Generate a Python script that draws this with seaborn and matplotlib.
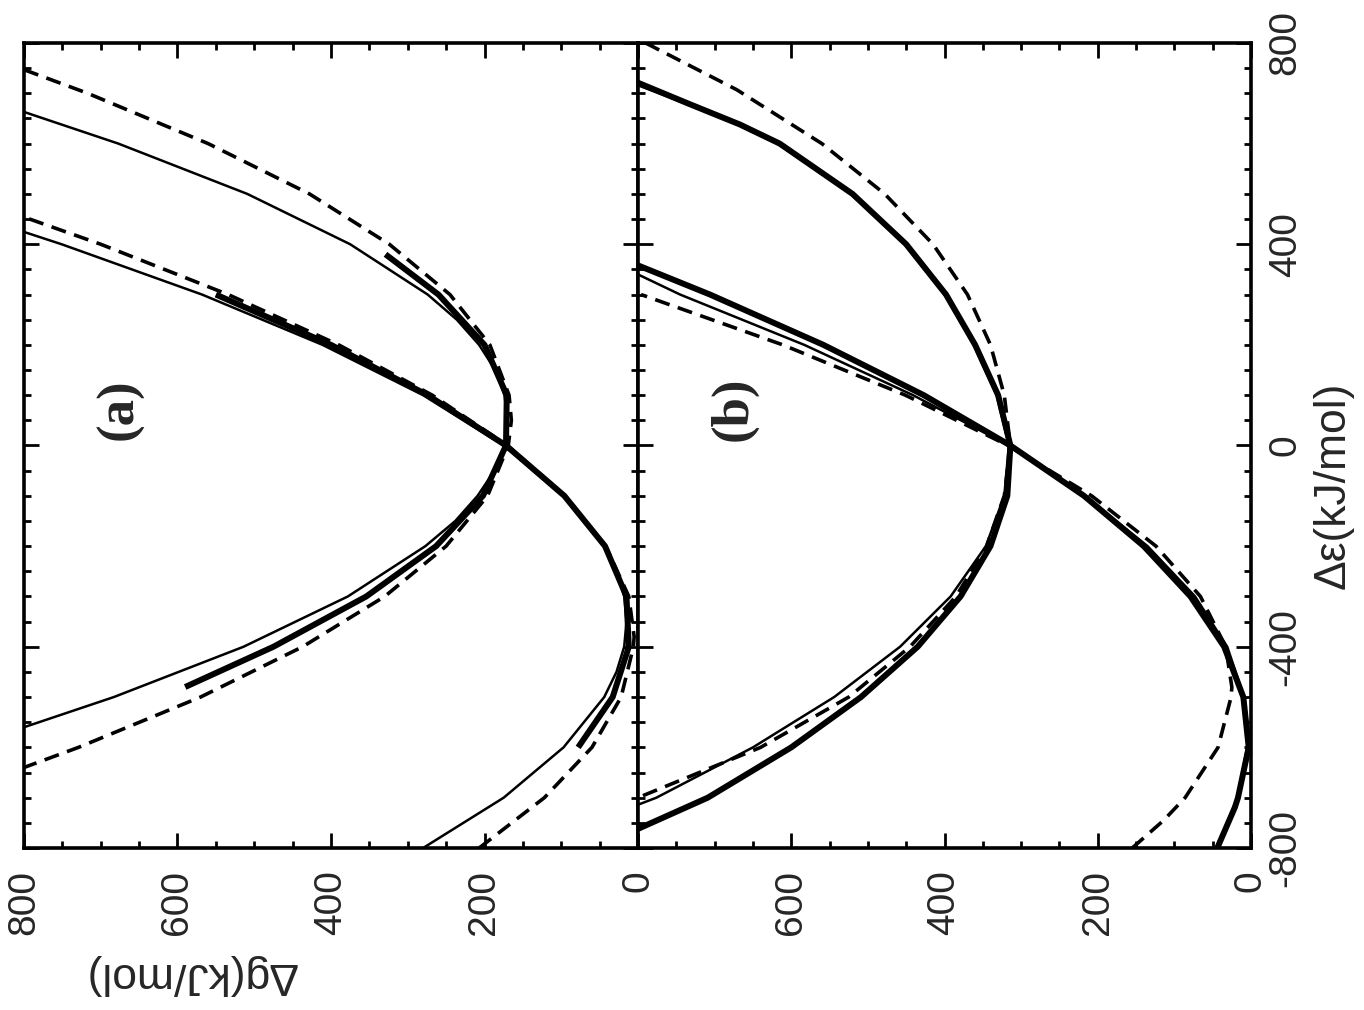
#!/usr/bin/env python3
"""Free-energy curves dg vs de, two panels, drawn in the rotated layout of the scan."""

import matplotlib
matplotlib.use("Agg")
import matplotlib.pyplot as plt
from matplotlib.ticker import MultipleLocator, FixedLocator
import seaborn as sns

# ---- panel (a) -------------------------------------------------------------
# energy gap (kJ/mol) and free energy (kJ/mol)
A_THIN_U_EPS = [663, 600, 500, 400, 300, 250, 200, 150, 100, 50, 0, -50, -100, -150, -200, -300, -400, -500, -560]
A_THIN_U_G = [800, 677, 509, 375, 274, 236, 207, 186, 174, 170, 174, 187, 209, 238, 277, 378, 514, 683, 800]

A_THIN_L_EPS = [-800, -700, -600, -500, -450, -400, -350, -300, -250, -200, -100, 0, 100, 200, 300, 400, 424]
A_THIN_L_G = [280, 175, 97, 44, 28, 18, 15, 18, 28, 44, 97, 175, 280, 411, 568, 751, 799]

A_DASH_U_EPS = [747, 700, 600, 500, 400, 300, 200, 100, 50, 0, -100, -200, -300, -400, -500, -600, -640]
A_DASH_U_G = [800, 717, 560, 428, 324, 245, 193, 168, 165, 169, 196, 250, 330, 437, 570, 729, 800]

A_DASH_L_EPS = [-800, -700, -600, -500, -400, -380, -300, -200, -100, 0, 100, 200, 300, 400, 460]
A_DASH_L_G = [207, 122, 60, 22, 6, 5, 12, 42, 95, 170, 268, 390, 534, 700, 811]

A_THICK_U_EPS = [-480, -400, -300, -200, -100, 0, 100, 200, 300, 380]
A_THICK_U_G = [590, 475, 354, 263, 202, 172, 171, 200, 260, 329]

A_THICK_L_EPS = [-600, -500, -400, -300, -200, -100, 0, 100, 200, 300]
A_THICK_L_G = [78, 33, 12, 15, 43, 96, 172, 274, 400, 550]

# ---- panel (b) -------------------------------------------------------------
B_THIN_U_EPS = [716, 680, 638, 600, 500, 400, 300, 200, 100, 0, -100, -200, -300, -400, -500, -600, -700, -714]
B_THIN_U_G = [800, 738, 670, 618, 522, 452, 400, 362, 332, 316, 322, 346, 392, 458, 544, 650, 776, 800]

B_THIN_L_EPS = [-800, -700, -600, -560, -500, -400, -300, -200, -100, 0, 100, 200, 300, 340]
B_THIN_L_G = [44, 18, 5, 4, 9, 31, 73, 135, 217, 316, 441, 583, 745, 800]

B_DASH_U_EPS = [800, 707, 600, 500, 400, 300, 200, 100, 0, -100, -200, -300, -400, -500, -600, -650, -700]
B_DASH_U_G = [790, 671, 560, 478, 415, 370, 340, 322, 314, 322, 345, 385, 445, 525, 640, 720, 800]

B_DASH_L_EPS = [-800, -745, -700, -600, -500, -480, -400, -300, -200, -100, 0, 100, 200, 300]
B_DASH_L_G = [155, 114, 86, 43, 26, 25, 33, 66, 124, 208, 317, 451, 611, 796]

B_THICK_U_EPS = [721, 680, 638, 600, 500, 400, 300, 200, 100, 0, -100, -200, -300, -400, -500, -600, -700, -762]
B_THICK_U_G = [800, 735, 667, 615, 520, 450, 398, 360, 330, 314, 318, 340, 379, 435, 509, 600, 709, 800]

B_THICK_L_EPS = [-800, -719, -700, -600, -500, -400, -300, -200, -100, 0, 100, 200, 300, 358]
B_THICK_L_G = [44, 21, 17, 3, 10, 35, 79, 140, 218, 314, 427, 558, 706, 800]

G_TICKS = [0, 200, 400, 600, 800]
EPS_TICKS = [-800, -400, 0, 400, 800]

W, H = 1364, 1010
LEFT, MID, RIGHT = 24, 638, 1251
TOP, BOTTOM = 43, 848


def draw(ax, eps, g, kind):
    if kind == "thick":
        sns.lineplot(x=g, y=eps, sort=False, estimator=None, ax=ax, color="black", lw=4.3)
    elif kind == "thin":
        sns.lineplot(x=g, y=eps, sort=False, estimator=None, ax=ax, color="black", lw=1.8)
    else:
        sns.lineplot(x=g, y=eps, sort=False, estimator=None, ax=ax, color="black", lw=2.6)
        ax.lines[-1].set_dashes((4.2, 2.4))
    ax.lines[-1].set_solid_capstyle("butt")


def style_axes(ax):
    ax.set_xlim(800, 0)
    ax.set_ylim(-800, 800)
    ax.xaxis.set_major_locator(FixedLocator(G_TICKS))
    ax.xaxis.set_minor_locator(MultipleLocator(50))
    ax.yaxis.set_major_locator(FixedLocator(EPS_TICKS))
    ax.yaxis.set_minor_locator(MultipleLocator(50))
    ax.tick_params(which="both", direction="in", top=True, bottom=True, left=True, right=True,
                   color="black", width=2.0)
    ax.tick_params(which="major", length=11)
    ax.tick_params(which="minor", length=5)
    ax.tick_params(axis="x", labelsize=28, pad=16, labelrotation=90)
    for s in ax.spines.values():
        s.set_linewidth(2.6)
        s.set_color("black")
    ax.set_xlabel("")
    ax.set_ylabel("")


def main():
    sns.set_theme(style="white")
    plt.rcParams["font.family"] = ["Liberation Sans", "DejaVu Sans"]
    plt.rcParams["axes.unicode_minus"] = False

    fig = plt.figure(figsize=(W / 100, H / 100), dpi=100)
    h = (BOTTOM - TOP) / H
    b = 1 - BOTTOM / H
    ax_a = fig.add_axes([LEFT / W, b, (MID - LEFT) / W, h])
    ax_b = fig.add_axes([MID / W, b, (RIGHT - MID) / W, h])

    draw(ax_a, A_THIN_U_EPS, A_THIN_U_G, "thin")
    draw(ax_a, A_THIN_L_EPS, A_THIN_L_G, "thin")
    draw(ax_a, A_DASH_U_EPS, A_DASH_U_G, "dash")
    draw(ax_a, A_DASH_L_EPS, A_DASH_L_G, "dash")
    draw(ax_a, A_THICK_U_EPS, A_THICK_U_G, "thick")
    draw(ax_a, A_THICK_L_EPS, A_THICK_L_G, "thick")

    draw(ax_b, B_THIN_U_EPS, B_THIN_U_G, "thin")
    draw(ax_b, B_THIN_L_EPS, B_THIN_L_G, "thin")
    draw(ax_b, B_DASH_U_EPS, B_DASH_U_G, "dash")
    draw(ax_b, B_DASH_L_EPS, B_DASH_L_G, "dash")
    draw(ax_b, B_THICK_U_EPS, B_THICK_U_G, "thick")
    draw(ax_b, B_THICK_L_EPS, B_THICK_L_G, "thick")

    for ax in (ax_a, ax_b):
        style_axes(ax)

    ax_a.set_xticklabels(["0", "200", "400", "600", "800"])
    ax_a.tick_params(axis="y", labelleft=False, labelright=False)
    ax_b.set_xticklabels(["0", "200", "400", "600", ""])
    ax_b.tick_params(axis="y", labelleft=False, labelright=True, labelsize=28, pad=12, labelrotation=90)
    for lab in ax_b.get_yticklabels():
        lab.set_va("center")

    serif = {"family": ["Liberation Serif", "DejaVu Serif"], "weight": "bold", "size": 38}
    ax_a.text(675, 73, "(a)", rotation=90, ha="center", va="center", fontdict=serif)
    ax_b.text(675, 73, "(b)", rotation=90, ha="center", va="center", fontdict=serif)

    fig.text(1333 / W, 1 - 485 / H, "Δε(kJ/mol)", rotation=90, ha="center", va="center", fontsize=32)
    fig.text(190 / W, 1 - 975 / H, "Δg(kJ/mol)", rotation=180, ha="center", va="center", fontsize=32)

    fig.savefig("out.png", dpi=100, facecolor="white")
    plt.close(fig)


if __name__ == "__main__":
    main()
